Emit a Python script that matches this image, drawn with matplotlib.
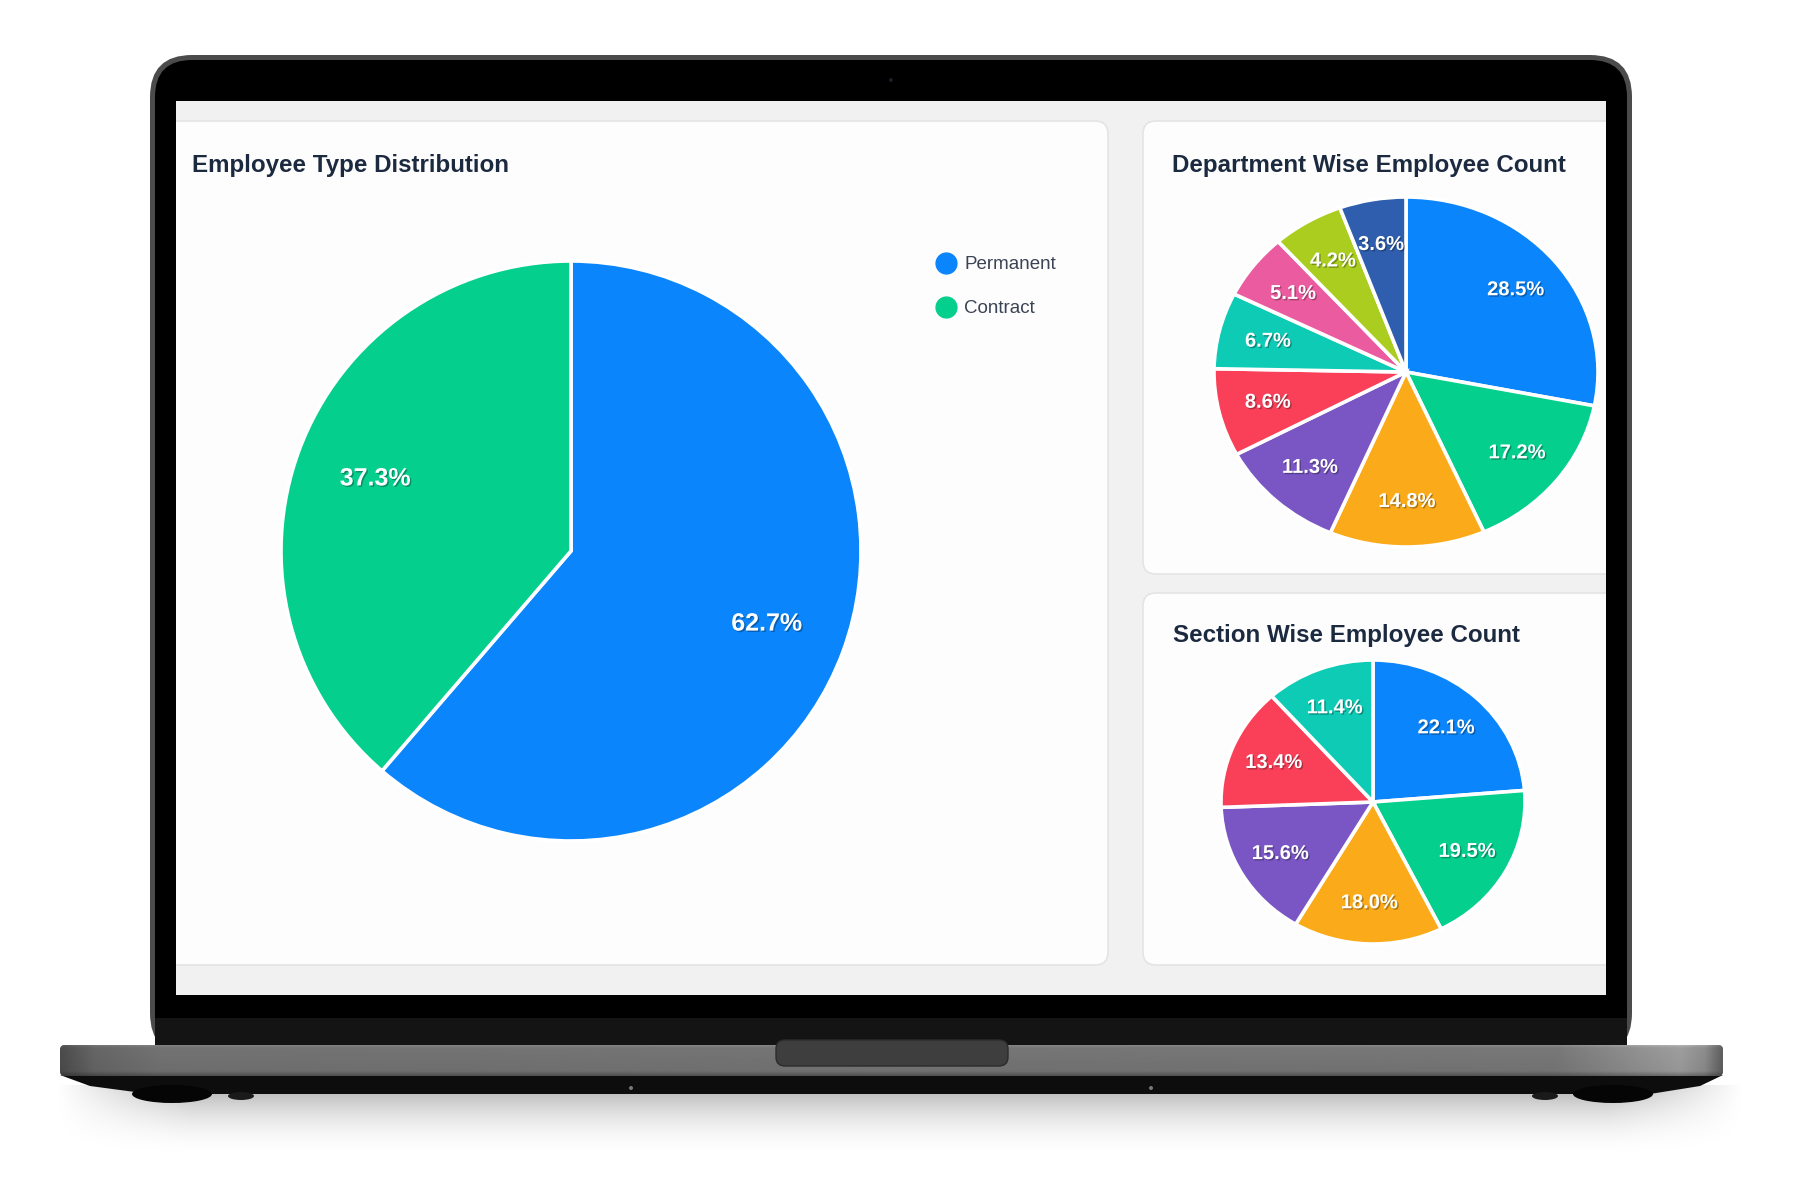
import numpy as np
import matplotlib
matplotlib.use('Agg')
import matplotlib.pyplot as plt
import matplotlib.patheffects as pe
from matplotlib.patches import FancyBboxPatch, Rectangle, Ellipse, Circle, Polygon
from matplotlib.lines import Line2D

plt.rcParams['font.family'] = ['Liberation Sans', 'DejaVu Sans']

# data
emp_types = ['Permanent', 'Contract']
emp_share = [61.3, 38.7]                 # slice sizes as drawn
emp_labels = ['62.7%', '37.3%']          # printed percentages
emp_colors = ['#0a85fb', '#05cf8d']

dept_share = [28.1, 15.25, 13.1, 10.75, 8.1, 7.05, 6.05, 6.0, 5.6]
dept_labels = ['28.5%', '17.2%', '14.8%', '11.3%', '8.6%', '6.7%', '5.1%', '4.2%', '3.6%']
dept_colors = ['#0a85fb', '#05cf8d', '#fbab1a', '#7a56c5', '#fa4059',
               '#0dcbb5', '#ea5c9f', '#aacd1f', '#2f5eae']

section_share = [23.7, 18.9, 15.9, 15.9, 14.0, 11.6]
section_labels = ['22.1%', '19.5%', '18.0%', '15.6%', '13.4%', '11.4%']
section_colors = ['#0a85fb', '#05cf8d', '#fbab1a', '#7a56c5', '#fa4059', '#0dcbb5']

W, H = 1800, 1200
fig = plt.figure(figsize=(18, 12), dpi=100)
fig.patch.set_facecolor('white')

# background axes in pixel coordinates for the laptop frame
bg = fig.add_axes([0, 0, 1, 1])
bg.set_xlim(0, W)
bg.set_ylim(H, 0)
bg.axis('off')

# soft shadow under the laptop
sh_y = np.linspace(0, 1, 80)[:, None]
sh_x = np.linspace(0, 1, 400)[None, :]
fade_x = np.clip(np.minimum(sh_x, 1 - sh_x) / 0.08, 0, 1)
alpha = 0.32 * (1 - sh_y) ** 2 * fade_x
shadow = np.zeros((80, 400, 4))
shadow[..., 3] = alpha
bg.imshow(shadow, extent=(55, 1745, 1160, 1085), aspect='auto', zorder=1)

# lid
bg.add_patch(FancyBboxPatch((150, 55), 1482, 1000, boxstyle='round,pad=0,rounding_size=42',
                            fc='#4b4b4b', ec='none', zorder=2))
bg.add_patch(FancyBboxPatch((155, 60), 1472, 995, boxstyle='round,pad=0,rounding_size=37',
                            fc='#000000', ec='none', zorder=3))
bg.add_patch(Rectangle((155, 1018), 1472, 28, fc='#141414', ec='none', zorder=4))
bg.add_patch(Circle((891, 80), 2, fc='#1c1c2a', ec='none', zorder=5))

# screen and dashboard panels
screen = Rectangle((176, 101), 1430, 894, fc='#f1f1f1', ec='none', zorder=5)
bg.add_patch(screen)
panels = [(150, 121, 958, 844), (1143, 121, 520, 453), (1143, 593, 520, 372)]
for x, y, w, h in panels:
    p = FancyBboxPatch((x, y), w, h, boxstyle='round,pad=0,rounding_size=13',
                       fc='#fdfdfd', ec='#e4e4e4', lw=1.2, zorder=6)
    bg.add_patch(p)
    p.set_clip_path(screen)

title_kw = dict(fontsize=17.4, fontweight='bold', color='#1c2a40', va='baseline', zorder=7)
bg.text(192, 172, 'Employee Type Distribution', **title_kw)
bg.text(1172, 172, 'Department Wise Employee Count', **title_kw)
bg.text(1173, 642, 'Section Wise Employee Count', **title_kw)

# base
base = FancyBboxPatch((60, 1045), 1663, 31, boxstyle='round,pad=0,rounding_size=5',
                      fc='#767676', ec='none', zorder=8)
bg.add_patch(base)
gx = np.linspace(0, 1, 600)
gray = np.interp(gx, [0, 0.02, 0.06, 0.9, 0.975, 0.99, 1.0],
                 [0.30, 0.40, 0.45, 0.47, 0.62, 0.55, 0.38])
gy = np.linspace(0, 1, 30)
shade = np.interp(gy, [0, 0.08, 0.85, 1.0], [1.12, 1.0, 0.95, 0.7])
img = np.clip(gray[None, :] * shade[:, None], 0, 1)
im = bg.imshow(img, cmap='gray', vmin=0, vmax=1, extent=(60, 1723, 1076, 1045),
               aspect='auto', zorder=9)
im.set_clip_path(base)
bg.add_patch(FancyBboxPatch((776, 1040), 232, 26, boxstyle='round,pad=0,rounding_size=9',
                            fc='#3e3e3e', ec='#2c2c2c', lw=1, zorder=10))

# underside and feet
bg.add_patch(Polygon([(60, 1075), (1723, 1075), (1700, 1086), (1650, 1094),
                      (150, 1094), (90, 1086)], closed=True, fc='#0d0d0d', ec='none', zorder=7))
for fx in (172, 1613):
    bg.add_patch(Ellipse((fx, 1094), 80, 18, fc='#050505', ec='none', zorder=7))
for fx in (241, 1545):
    bg.add_patch(Ellipse((fx, 1096), 26, 8, fc='#1a1a1a', ec='none', zorder=7))
for sx in (631, 1151):
    bg.add_patch(Circle((sx, 1088), 2, fc='#777777', ec='none', zorder=8))

bg.set_xlim(0, W)
bg.set_ylim(H, 0)


def pie_axes(cx, cy, rx, ry):
    return fig.add_axes([(cx - rx) / W, 1 - (cy + ry) / H, 2 * rx / W, 2 * ry / H])


def draw_pie(ax, shares, colors, labels, fs, dist):
    it = iter(labels)
    ax.pie(shares, colors=colors, startangle=90, counterclock=False,
           autopct=lambda p: next(it), pctdistance=dist,
           wedgeprops=dict(edgecolor='white', linewidth=2.6),
           textprops=dict(color='white', fontsize=fs, fontweight='bold',
                          path_effects=[pe.withSimplePatchShadow(offset=(1, -1),
                                                                 shadow_rgbFace='black',
                                                                 alpha=0.3)]))
    ax.set_aspect('auto')
    ax.set_xlim(-1, 1)
    ax.set_ylim(-1, 1)
    ax.axis('off')


ax1 = pie_axes(571, 551, 290, 290)
draw_pie(ax1, emp_share, emp_colors, emp_labels, 18, 0.72)
handles = [Line2D([], [], marker='o', ls='none', ms=15, mfc=c, mec=c) for c in emp_colors]
ax1.legend(handles, emp_types, loc='upper left', bbox_to_anchor=(937 / W, 1 - 256 / H),
           bbox_transform=fig.transFigure, frameon=False, fontsize=13.5,
           labelcolor='#3b4355', labelspacing=1.45, handlelength=1.0,
           handletextpad=0.45, borderpad=0, borderaxespad=0)

ax2 = pie_axes(1406, 372, 192, 175)
draw_pie(ax2, dept_share, dept_colors, dept_labels, 14.5, 0.74)

ax3 = pie_axes(1373, 802, 152, 142)
draw_pie(ax3, section_share, section_colors, section_labels, 14.5, 0.71)

fig.savefig('out.png', dpi=100)
